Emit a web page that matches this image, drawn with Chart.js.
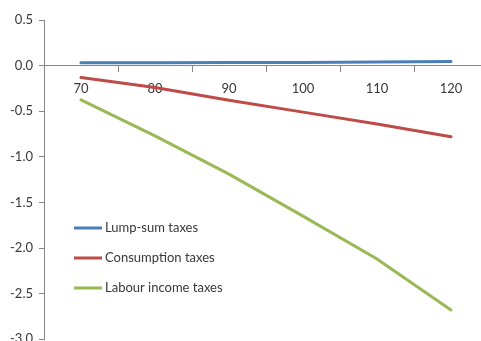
<!DOCTYPE html>
<html>
<head>
<meta charset="utf-8">
<script src="https://cdn.jsdelivr.net/npm/chart.js@4/dist/chart.umd.min.js"></script>
<style>
  html, body { margin: 0; padding: 0; background: #fff; overflow: hidden; }
  #wrap { width: 481px; height: 341px; overflow: hidden; position: relative; }
  canvas { display: block; }
</style>
</head>
<body>
<div id="wrap"><canvas id="c" width="490" height="353"></canvas></div>
<script>
// Categories along the horizontal axis
const categories = ['70', '80', '90', '100', '110', '120'];

// Series values
const lumpSum = [0.03, 0.03, 0.035, 0.035, 0.04, 0.045];
const consumption = [-0.13, -0.24, -0.38, -0.51, -0.64, -0.78];
const labourIncome = [-0.375, -0.77, -1.19, -1.65, -2.12, -2.68];

// Series names
const seriesNames = ['Lump-sum taxes', 'Consumption taxes', 'Labour income taxes'];

// Vertical axis range and step
const yMin = -3.0;
const yMax = 0.5;
const yStep = 0.5;

const FONT = 'Lato, "Open Sans", sans-serif';
const TEXT_COLOR = '#383838';
const AXIS_COLOR = '#868686';

// Legend drawn inside the plot area, lower left
const insideLegend = {
  id: 'insideLegend',
  afterDraw(chart) {
    const ctx = chart.ctx;
    const area = chart.chartArea;
    const x0 = area.left + 30;
    const rows = [area.top + 208, area.top + 238, area.top + 268];
    ctx.save();
    chart.data.datasets.forEach((ds, i) => {
      const y = rows[i];
      ctx.strokeStyle = ds.borderColor;
      ctx.lineWidth = 3;
      ctx.beginPath();
      ctx.moveTo(x0, y);
      ctx.lineTo(x0 + 28, y);
      ctx.stroke();
      ctx.fillStyle = TEXT_COLOR;
      ctx.font = '13px ' + FONT;
      ctx.textBaseline = 'middle';
      ctx.textAlign = 'left';
      ctx.fillText(ds.label, x0 + 31, y);
    });
    ctx.restore();
  }
};

new Chart(document.getElementById('c'), {
  type: 'line',
  data: {
    labels: categories,
    datasets: [
      { label: seriesNames[0], data: lumpSum, borderColor: '#4A7EBB' },
      { label: seriesNames[1], data: consumption, borderColor: '#BE4B48' },
      { label: seriesNames[2], data: labourIncome, borderColor: '#98B954' }
    ].map(d => Object.assign(d, {
      borderWidth: 3,
      pointRadius: 0,
      fill: false,
      tension: 0,
      borderCapStyle: 'round'
    }))
  },
  options: {
    responsive: false,
    animation: false,
    devicePixelRatio: 1,
    layout: { padding: { top: 20, bottom: 0, right: 2, left: 0 } },
    plugins: {
      legend: { display: false },
      tooltip: { enabled: false }
    },
    scales: {
      x: {
        type: 'category',
        offset: true,
        position: { y: 0 },
        grid: {
          offset: true,
          drawOnChartArea: false,
          drawTicks: true,
          tickLength: 6,
          color: AXIS_COLOR
        },
        border: { color: AXIS_COLOR, width: 1 },
        ticks: {
          color: TEXT_COLOR,
          font: { family: FONT, size: 13 },
          padding: 9,
          maxRotation: 0
        }
      },
      y: {
        min: yMin,
        max: yMax,
        afterFit(scale) { scale.width = 44; },
        grid: {
          drawOnChartArea: false,
          drawTicks: true,
          tickLength: 5,
          color: AXIS_COLOR
        },
        border: { color: AXIS_COLOR, width: 1 },
        ticks: {
          stepSize: yStep,
          color: TEXT_COLOR,
          font: { family: FONT, size: 13 },
          padding: 6,
          callback: v => Number(v).toFixed(1)
        }
      }
    }
  },
  plugins: [insideLegend]
});
</script>
</body>
</html>
